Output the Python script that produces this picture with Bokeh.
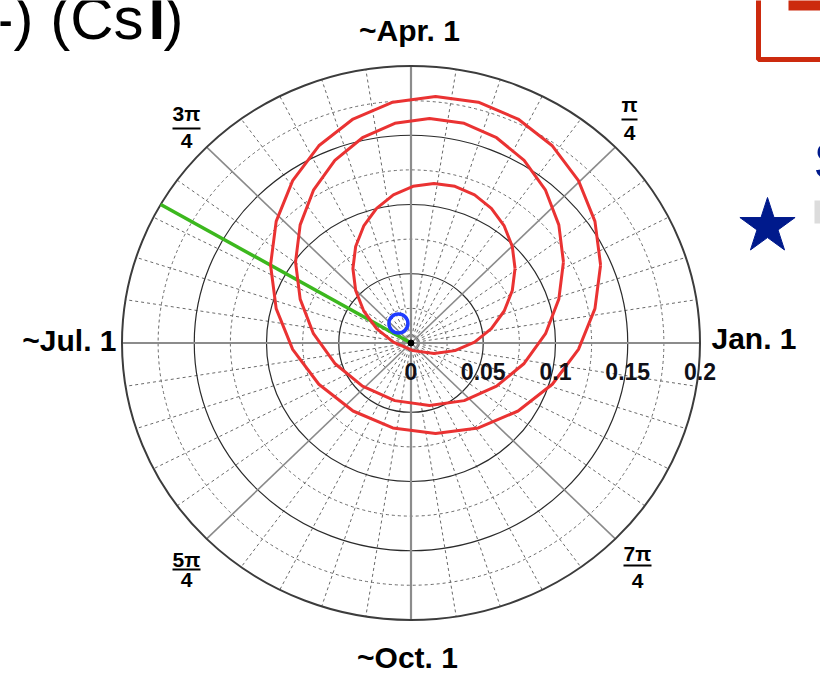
import numpy as np
from bokeh.plotting import figure
from bokeh.models import Range1d
from bokeh.embed import file_html
from bokeh.resources import INLINE
from bokeh.core.properties import value

# ---------------- data ----------------
radial_ticks = [0.0, 0.05, 0.1, 0.15, 0.2]
radial_labels = ["0", "0.05", "0.1", "0.15", "0.2"]
minor_radii = [0.025, 0.075, 0.125, 0.175]
month_labels = ["Jan. 1", "~Apr. 1", "~Jul. 1", "~Oct. 1"]
pi_numerators = ["\u03c0", "3\u03c0", "5\u03c0", "7\u03c0"]
pi_denominator = "4"

# modulation phasor trajectories (cos / sin components)
inner_cos = [0.0720, 0.0701, 0.0645, 0.0556, 0.0440, 0.0304, 0.0159, 0.0014, -0.0122, -0.0238, -0.0327, -0.0383,
             -0.0402, -0.0383, -0.0327, -0.0238, -0.0122, 0.0014, 0.0159, 0.0304, 0.0440, 0.0556, 0.0645, 0.0701]
inner_sin = [0.0538, 0.0697, 0.0845, 0.0972, 0.1070, 0.1131, 0.1152, 0.1131, 0.1070, 0.0972, 0.0845, 0.0697,
             0.0538, 0.0379, 0.0231, 0.0104, 0.0006, -0.0055, -0.0076, -0.0055, 0.0006, 0.0104, 0.0231, 0.0379]

middle_cos = [0.1055, 0.1023, 0.0931, 0.0783, 0.0592, 0.0368, 0.0128, -0.0112, -0.0336, -0.0527, -0.0675, -0.0767,
              -0.0799, -0.0767, -0.0675, -0.0527, -0.0336, -0.0112, 0.0128, 0.0368, 0.0592, 0.0783, 0.0931, 0.1023]
middle_sin = [0.0585, 0.0853, 0.1103, 0.1318, 0.1482, 0.1586, 0.1621, 0.1586, 0.1482, 0.1318, 0.1103, 0.0853,
              0.0585, 0.0317, 0.0067, -0.0148, -0.0312, -0.0416, -0.0451, -0.0416, -0.0312, -0.0148, 0.0067, 0.0317]

outer_cos = [0.1312, 0.1273, 0.1159, 0.0978, 0.0741, 0.0466, 0.0170, -0.0126, -0.0401, -0.0638, -0.0819, -0.0933,
             -0.0972, -0.0933, -0.0819, -0.0638, -0.0401, -0.0126, 0.0170, 0.0466, 0.0741, 0.0978, 0.1159, 0.1273]
outer_sin = [0.0563, 0.0878, 0.1172, 0.1424, 0.1617, 0.1739, 0.1780, 0.1739, 0.1617, 0.1424, 0.1172, 0.0878,
             0.0563, 0.0248, -0.0046, -0.0298, -0.0491, -0.0613, -0.0654, -0.0613, -0.0491, -0.0298, -0.0046, 0.0248]

phase_line_deg = 150.0
phase_line_r = 0.2
measured_cos = [-0.0087]
measured_sin = [0.0141]

# ---------------- layout ----------------
W, H = 820, 693
CX, CY = 410.5, 342.5      # pixel of polar origin
SX, SY = 1445.0, 1385.0    # pixels per unit


def px(x):
    return (x - CX) / SX


def py(y):
    return (CY - y) / SY


p = figure(width=W, height=H, output_backend="svg", toolbar_location=None,
           x_range=Range1d(px(0), px(W)), y_range=Range1d(py(H), py(0)),
           min_border=0)
p.axis.visible = False
p.grid.visible = False
p.outline_line_color = None
p.background_fill_color = "white"
p.border_fill_color = "white"

RMAX = radial_ticks[-1]

# dashed minor radial lines
minor_ang = [a for a in range(0, 360, 9) if a % 45 != 0]
ma = np.radians(minor_ang)
p.segment(x0=0, y0=0, x1=RMAX * np.cos(ma), y1=RMAX * np.sin(ma),
          line_color="#6a6a6a", line_width=1, line_dash="3 3")

# dashed minor circles
p.ellipse(x=0, y=0, width=[2 * r for r in minor_radii], height=[2 * r for r in minor_radii],
          fill_color=None, line_color="#6a6a6a", line_width=1, line_dash="3 3")

# solid circles
p.ellipse(x=0, y=0, width=[2 * r for r in radial_ticks[1:-1]], height=[2 * r for r in radial_ticks[1:-1]],
          fill_color=None, line_color="#2a2a2a", line_width=1.2)

# major radial lines
MA = np.radians([45, 135, 225, 315])
p.segment(x0=0, y0=0, x1=RMAX * np.cos(MA), y1=RMAX * np.sin(MA),
          line_color="#8a8a8a", line_width=1.6)
p.segment(x0=[-RMAX, 0], y0=[0, -RMAX], x1=[RMAX, 0], y1=[0, RMAX],
          line_color="#8c8c8c", line_width=2.2)

# outer circle
p.ellipse(x=0, y=0, width=2 * RMAX, height=2 * RMAX, fill_color=None,
          line_color="#3c3c3c", line_width=2)

# green phase line
pr = np.radians(phase_line_deg)
p.line(x=[0, phase_line_r * np.cos(pr)], y=[0, phase_line_r * np.sin(pr)],
       line_color="#3cb81e", line_width=3.5)

# red trajectories (closed)
for cs, sn in [(inner_cos, inner_sin), (middle_cos, middle_sin), (outer_cos, outer_sin)]:
    p.line(x=list(cs) + [cs[0]], y=list(sn) + [sn[0]], line_color="#ea3232", line_width=3,
           line_join="round")

# origin dot
p.scatter(x=[0], y=[0], size=6, color="black")

# blue open marker
p.scatter(x=measured_cos, y=measured_sin, marker="circle", size=19, fill_color=None,
          line_color="#1f3cff", line_width=3.5)

FONT = value("Liberation Sans")


def txt(x, y, s, size, align="center", bold=True, color="black"):
    p.text(x=[x], y=[y], text=[s], text_font=FONT, text_font_style="bold" if bold else "normal",
           text_font_size=size, text_align=align, text_baseline="middle", text_color=color)


# radial labels
p.text(x=radial_ticks, y=[py(371)] * len(radial_ticks), text=radial_labels,
       text_font=FONT, text_font_style="bold", text_font_size="23px",
       text_align="center", text_baseline="middle", text_color="#101018")

# month labels
txt(px(711), py(338), month_labels[0], "30px", "left")
txt(px(409), py(30), month_labels[1], "30px", "center")
txt(px(116), py(340), month_labels[2], "30px", "right")
txt(px(407), py(657), month_labels[3], "30px", "center")

# pi fraction labels: (center x, numerator center, bar y, denominator center)
frac_pos = [(629, 104, 119, 132), (186, 113, 128, 140), (186, 559, 569, 579), (637, 553, 565, 580)]
for num, (fx, ny, by, dy) in zip(pi_numerators, frac_pos):
    txt(px(fx), py(ny), num, "21px", "center")
    half = 14 if len(num) > 1 else 8
    p.segment(x0=[px(fx - half)], y0=[py(by)], x1=[px(fx + half)], y1=[py(by)],
              line_color="black", line_width=2)
    txt(px(fx), py(dy), pi_denominator, "21px", "center")

# cropped slide decorations
txt(px(143), py(18), "-) (Cs", "60px", "right", bold=False)
txt(px(148), py(18), "I", "60px", "left", bold=True)
txt(px(163), py(18), ")", "60px", "left", bold=False)

p.line(x=[px(758), px(758), px(830)], y=[py(-10), py(59), py(59)], line_color="#cc2a0e", line_width=5)
p.quad(left=px(788), right=px(830), top=py(-10), bottom=py(10), fill_color="#cc2a0e", line_color=None)
p.scatter(x=[px(767)], y=[py(226)], marker="star", size=58, color="#001a8c")
txt(px(813), py(160), "S", "52px", "left", bold=False, color="#001a8c")
p.quad(left=px(814), right=px(830), top=py(200), bottom=py(223), fill_color="#dcdcdc", line_color=None)

open("out.html", "w").write(file_html(p, INLINE))
